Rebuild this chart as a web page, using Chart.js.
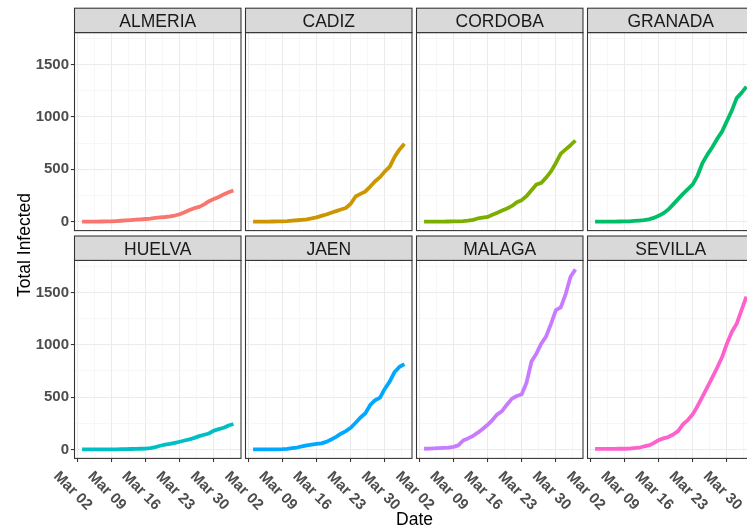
<!DOCTYPE html>
<html>
<head>
<meta charset="utf-8">
<script src="https://cdn.jsdelivr.net/npm/chart.js@4.4.1/dist/chart.umd.min.js"></script>
<style>
html,body{margin:0;padding:0;background:#ffffff;overflow:hidden;width:747px;height:527px;}
.wrap{position:absolute;left:0;top:0;width:760px;height:527px;}
</style>
</head>
<body>
<script>
// ---------- DATA ----------
const provinces = ['ALMERIA','CADIZ','CORDOBA','GRANADA','HUELVA','JAEN','MALAGA','SEVILLA'];
const colors = ['#F8766D','#CD9600','#7CAE00','#00BE67','#00BFC4','#00A9FF','#C77CFF','#FF61CC'];
const dates = ['2020-03-03','2020-03-04','2020-03-05','2020-03-06','2020-03-07','2020-03-08','2020-03-09','2020-03-10',
  '2020-03-11','2020-03-12','2020-03-13','2020-03-14','2020-03-15','2020-03-16','2020-03-17','2020-03-18',
  '2020-03-19','2020-03-20','2020-03-21','2020-03-22','2020-03-23','2020-03-24','2020-03-25','2020-03-26',
  '2020-03-27','2020-03-28','2020-03-29','2020-03-30','2020-03-31','2020-04-01','2020-04-02','2020-04-03'];
const almeria = [0,0,0,0,1,2,3,5,8,11,15,19,22,25,29,35,40,44,50,58,70,90,110,128,140,165,195,215,235,260,280,297];
const cadiz   = [0,0,0,0,1,2,3,5,9,13,17,22,30,40,55,68,85,100,115,130,170,240,265,288,335,385,425,480,525,620,690,744];
const cordoba = [0,0,0,0,0,1,2,3,5,10,17,30,38,45,65,85,105,125,150,185,205,245,300,355,370,420,480,560,650,690,730,775];
const granada = [0,0,0,0,0,1,2,3,6,10,15,22,35,55,80,115,165,215,265,310,355,440,560,640,710,790,860,960,1060,1180,1230,1290];
const huelva  = [0,0,0,0,0,0,1,1,2,3,4,5,6,7,12,22,35,45,52,62,73,85,96,110,127,140,152,180,193,207,228,243];
const jaen    = [0,0,0,0,0,1,2,6,12,18,28,38,45,52,58,72,95,120,150,175,207,255,305,345,425,470,495,580,650,740,790,815];
const malaga  = [6,8,10,12,14,16,24,38,85,105,128,160,195,235,280,335,367,430,485,510,527,640,840,915,1010,1080,1200,1330,1357,1484,1650,1720];
const sevilla = [5,5,5,5,5,6,6,7,12,16,28,38,60,89,105,118,142,175,240,280,335,415,505,595,685,780,880,1010,1121,1200,1330,1460];
const series = [almeria,cadiz,cordoba,granada,huelva,jaen,malaga,sevilla];

const xTickDates  = ['2020-03-02','2020-03-09','2020-03-16','2020-03-23','2020-03-30'];
const xTickLabels = ['Mar 02','Mar 09','Mar 16','Mar 23','Mar 30'];
const yTicks      = [0,500,1000,1500];
const yTickLabels = ['0','500','1000','1500'];
const yTitle = 'Total Infected';
const xTitle = 'Date';
const xOrigin = '2020-03-02';
const xMinDay = -0.55, xMaxDay = 33.55;   // axis limits (days from origin)
const yMin = -86, yMax = 1806;            // axis limits

// ---------- LAYOUT ----------
const W = 760, H = 527;
const colLeft = [74.5, 245.5, 416.5, 587.5], panelW = 166.5;
const rowTop = [32.6, 260.4], panelH = 198;
const stripH = 24.4;
const FONT = '"Liberation Sans", Arial, Helvetica, sans-serif';
const DAY = 86400000;
const toDay = d => (Date.parse(d) - Date.parse(xOrigin)) / DAY;

const xMajor = xTickDates.map(toDay);
const xGrid = [];
xMajor.forEach(v => { xGrid.push(v); xGrid.push(v + 3.5); });
const yGrid = [];
yTicks.forEach(v => { yGrid.push(v); yGrid.push(v + 250); });
const isMajX = v => xMajor.some(m => Math.abs(m - v) < 1e-6);
const isMajY = v => yTicks.some(m => Math.abs(m - v) < 1e-6);

series.forEach((vals, k) => {
  const col = k % 4, row = Math.floor(k / 4);
  const L = colLeft[col], T = rowTop[row];
  const div = document.createElement('div');
  div.className = 'wrap';
  const cv = document.createElement('canvas');
  cv.width = W; cv.height = H;
  cv.style.width = W + 'px'; cv.style.height = H + 'px';
  div.appendChild(cv);
  document.body.appendChild(div);

  const panelPlugin = {
    id: 'panel' + k,
    afterDraw(chart) {
      const ctx = chart.ctx, a = chart.chartArea;
      const w = a.right - a.left, h = a.bottom - a.top;
      ctx.save();
      // panel border
      ctx.strokeStyle = '#333333';
      ctx.lineWidth = 1.07;
      ctx.strokeRect(a.left, a.top, w, h);
      // strip
      ctx.fillStyle = '#D9D9D9';
      ctx.fillRect(a.left, a.top - stripH, w, stripH);
      ctx.strokeRect(a.left, a.top - stripH, w, stripH);
      ctx.fillStyle = '#1A1A1A';
      ctx.font = '17.5px ' + FONT;
      ctx.textAlign = 'center';
      ctx.textBaseline = 'alphabetic';
      ctx.fillText(provinces[k], (a.left + a.right) / 2, a.top - stripH + 19);
      // y tick labels
      if (col === 0) {
        ctx.font = 'bold 15px ' + FONT;
        ctx.fillStyle = '#4D4D4D';
        ctx.textAlign = 'right';
        ctx.textBaseline = 'middle';
        yTicks.forEach((v, i) => {
          ctx.fillText(yTickLabels[i], a.left - 5.5, chart.scales.y.getPixelForValue(v));
        });
      }
      // x tick labels
      if (row === 1) {
        ctx.font = 'bold 15px ' + FONT;
        ctx.fillStyle = '#4D4D4D';
        ctx.textAlign = 'center';
        ctx.textBaseline = 'middle';
        xTickDates.forEach((d, i) => {
          const px = chart.scales.x.getPixelForValue(toDay(d));
          ctx.save();
          ctx.translate(px - 4.5, a.bottom + 32.5);
          ctx.rotate(Math.PI / 4);
          ctx.fillText(xTickLabels[i], 0, 0);
          ctx.restore();
        });
      }
      // axis titles
      if (k === 0) {
        ctx.font = '17.5px ' + FONT;
        ctx.fillStyle = '#000000';
        ctx.textAlign = 'center';
        ctx.textBaseline = 'alphabetic';
        ctx.save();
        ctx.translate(30, 245);
        ctx.rotate(-Math.PI / 2);
        ctx.fillText(yTitle, 0, 0);
        ctx.restore();
        ctx.fillText(xTitle, 414.5, 525);
      }
      ctx.restore();
    }
  };

  new Chart(cv, {
    type: 'line',
    data: {
      datasets: [{
        data: dates.map((d, i) => ({ x: toDay(d), y: vals[i] })),
        borderColor: colors[k],
        borderWidth: 3.8,
        pointRadius: 0,
        tension: 0,
        fill: false,
        borderJoinStyle: 'round',
        borderCapStyle: 'butt'
      }]
    },
    options: {
      responsive: false,
      animation: false,
      devicePixelRatio: 1,
      events: [],
      layout: { padding: { left: L, top: T, right: W - L - panelW, bottom: H - T - panelH } },
      plugins: { legend: { display: false }, tooltip: { enabled: false }, title: { display: false } },
      scales: {
        x: {
          type: 'linear', bounds: 'data', min: xMinDay, max: xMaxDay,
          afterBuildTicks: s => { s.ticks = xGrid.map(v => ({ value: v })); },
          afterFit: s => { s.height = 0; s.paddingLeft = 0; s.paddingRight = 0; },
          ticks: { display: false },
          border: { display: false },
          grid: {
            color: c => (c.tick && isMajX(c.tick.value)) ? '#EBEBEB' : '#F2F2F2',
            lineWidth: c => (c.tick && isMajX(c.tick.value)) ? 1.07 : 0.6,
            drawTicks: row === 1,
            tickLength: 3.6,
            tickWidth: 1.07,
            tickColor: c => (c.tick && isMajX(c.tick.value)) ? '#333333' : 'rgba(0,0,0,0)'
          }
        },
        y: {
          type: 'linear', bounds: 'data', min: yMin, max: yMax,
          afterBuildTicks: s => { s.ticks = yGrid.map(v => ({ value: v })); },
          afterFit: s => { s.width = 0; s.paddingTop = 0; s.paddingBottom = 0; },
          ticks: { display: false },
          border: { display: false },
          grid: {
            color: c => (c.tick && isMajY(c.tick.value)) ? '#EBEBEB' : '#F2F2F2',
            lineWidth: c => (c.tick && isMajY(c.tick.value)) ? 1.07 : 0.6,
            drawTicks: col === 0,
            tickLength: 3.6,
            tickWidth: 1.07,
            tickColor: c => (c.tick && isMajY(c.tick.value)) ? '#333333' : 'rgba(0,0,0,0)'
          }
        }
      }
    },
    plugins: [panelPlugin]
  });
});
</script>
</body>
</html>
